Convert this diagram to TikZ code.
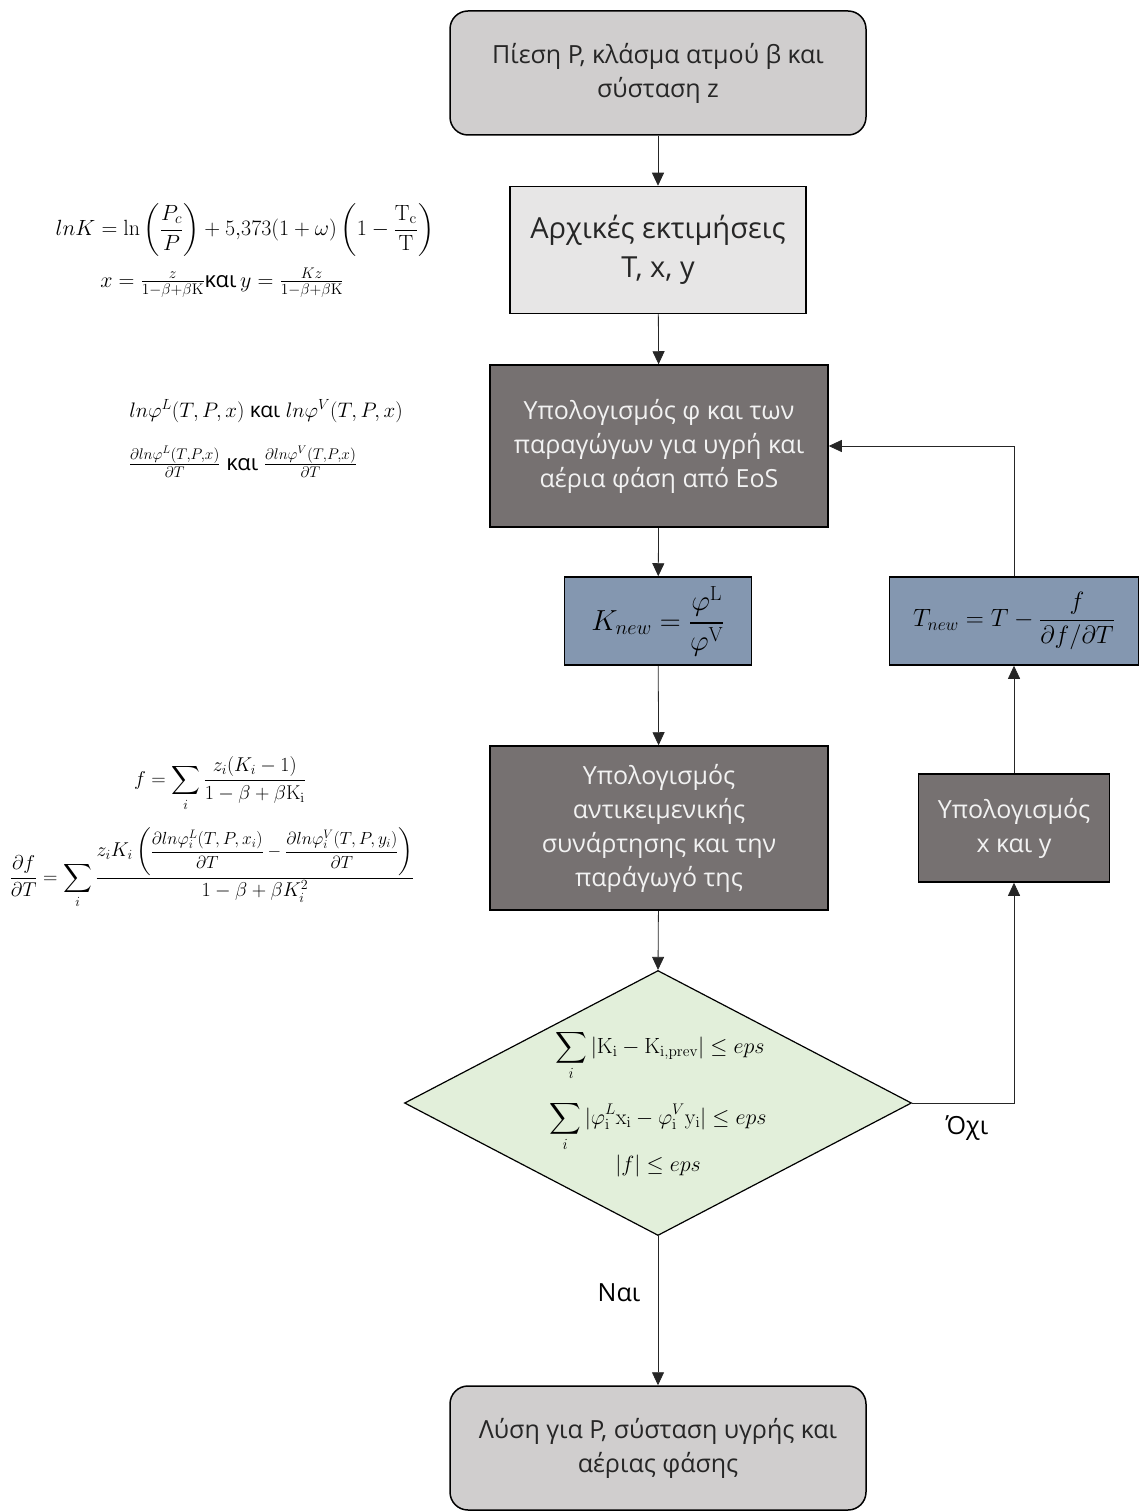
\RequirePackage{fix-cm}
\documentclass[tikz,border=0pt]{standalone}
\usepackage{amsmath,amssymb}
\usepackage[no-math]{fontspec}
\setmainfont{Open Sans}
\usepackage{xcolor}
\usetikzlibrary{shapes.geometric,arrows.meta}

\definecolor{termgray}{HTML}{D0CECE}
\definecolor{initgray}{HTML}{E7E6E6}
\definecolor{calcgray}{HTML}{767171}
\definecolor{updblue}{HTML}{8497B0}
\definecolor{checkgreen}{HTML}{E2EFDA}

\begin{document}
\begin{tikzpicture}[x=1pt, y=-1pt, font=\fontsize{25}{34}\selectfont,
    terminal/.style={draw, line width=1.5pt, rounded corners=18pt, fill=termgray,
      text=black!85, minimum width=416pt, minimum height=124pt, align=center},
    initbox/.style={draw, line width=1.5pt, fill=initgray, text=black!85,
      minimum width=296pt, minimum height=127pt, align=center,
      font=\fontsize{29}{39}\selectfont},
    calcbox/.style={draw, line width=1.5pt, fill=calcgray, text=white!95!black,
      minimum width=338pt, minimum height=162pt, align=center},
    updbox/.style={draw, line width=1.5pt, fill=updblue,
      minimum height=88pt, align=center},
    check/.style={draw, line width=1.2pt, fill=checkgreen, diamond, aspect=1.9,
      inner sep=0pt, minimum width=507pt, minimum height=265pt},
    cond/.style={anchor=base, inner sep=0pt, font=\fontsize{22}{28}\selectfont},
    eqn/.style={font=\fontsize{22}{28}\selectfont},
    flow/.style={draw=black!85, line width=0.8pt, -{Triangle[length=13pt,width=12pt]}}]
    \useasboundingbox (0,0) rectangle (1140,1511);

    % main column
    \node[terminal] (start) at (658,73)
      {Πίεση P, κλάσμα ατμού β και\\σύσταση z};
    \node[initbox] (init) at (658,250) {Αρχικές εκτιμήσεις\\T, x, y};
    \node[calcbox] (phi) at (659,446)
      {Υπολογισμός φ και των\\παραγώγων για υγρή και\\αέρια φάση από EoS};
    \node[updbox, minimum width=187pt] (knew) at (658,621)
      {\fontsize{29}{32}\selectfont$K_{new} = \dfrac{\varphi^{\mathrm{L}}}{\varphi^{\mathrm{V}}}$};
    \node[calcbox, minimum height=164pt] (obj) at (659,828)
      {Υπολογισμός\\αντικειμενικής\\συνάρτησης και την\\παράγωγό της};

    % convergence test
    \node[check] (conv) at (658,1103) {};
    \node[cond] (condK) at (660,1053)
      {$\displaystyle\sum_i |\mathrm{K_i} - \mathrm{K_{i,prev}}| \le eps$};
    \node[cond] (condphi) at (658,1124)
      {$\displaystyle\sum_i |\varphi_{\mathrm{i}}^{L}\mathrm{x_i} - \varphi_{\mathrm{i}}^{V}\mathrm{y_i}| \le eps$};
    \node[cond] (condf) at (658,1171) {$|f| \le eps$};

    \node[terminal] (stop) at (658,1448)
      {Λύση για P, σύσταση υγρής και\\αέριας φάσης};

    % return column
    \node[calcbox, minimum width=191pt, minimum height=108pt] (xy) at (1014,828)
      {Υπολογισμός\\x και y};
    \node[updbox, minimum width=249pt] (tnew) at (1014,621)
      {\fontsize{25}{30}\selectfont$T_{new} = T - \dfrac{f}{\partial f/\partial T}$};

    % equations beside the steps
    \node[eqn] (eqK) at (245,230)
      {$lnK = \ln\left(\dfrac{P_c}{P}\right) + 5{,}373(1+\omega)\left(1-\dfrac{\mathrm{T_c}}{\mathrm{T}}\right)$};
    \node[eqn] (eqxy) at (222,283)
      {$x = \frac{z}{1-\beta+\beta\mathrm{K}}\text{και}\, y = \frac{Kz}{1-\beta+\beta\mathrm{K}}$};
    \node[eqn, font=\fontsize{21}{28}\selectfont] (eqphi) at (266,411)
      {$ln\varphi^{L}(T,P,x)$ και $ln\varphi^{V}(T,P,x)$};
    \node[eqn] (eqdphi) at (243,462)
      {$\frac{\partial ln\varphi^{L}(T,P,x)}{\partial T}$ και $\frac{\partial ln\varphi^{V}(T,P,x)}{\partial T}$};
    \node[eqn, font=\fontsize{20}{28}\selectfont] (eqf) at (220,784)
      {$\displaystyle f = \sum_i \frac{z_i(K_i-1)}{1-\beta+\beta\mathrm{K_i}}$};
    \node[eqn, font=\fontsize{20}{28}\selectfont] (eqdf) at (212,868)
      {$\displaystyle \frac{\partial f}{\partial T} = \sum_i
        \frac{z_iK_i\left(\mbox{\fontsize{17.5}{22}\selectfont
          $\dfrac{\partial ln\varphi_i^{L}(T,P,x_i)}{\partial T}
          - \dfrac{\partial ln\varphi_i^{V}(T,P,y_i)}{\partial T}$}\right)}{1-\beta+\beta K_i^2}$};

    % connectors
    \draw[flow] (start) -- (init);
    \draw[flow] (init) -- (phi);
    \draw[flow] (phi) -- (knew);
    \draw[flow] (knew) -- (obj);
    \draw[flow] (obj) -- (conv.north);
    \draw[flow] (conv.south) -- node[pos=0.38, left=14pt] (yes) {Ναι} (stop);
    \draw[flow] (conv.east) -| node[pos=0.27, below=9pt] (no) {Όχι} (xy.south);
    \draw[flow] (xy) -- (tnew);
    \draw[flow] (tnew.north) |- (phi.east);
  \end{tikzpicture}
\end{document}
